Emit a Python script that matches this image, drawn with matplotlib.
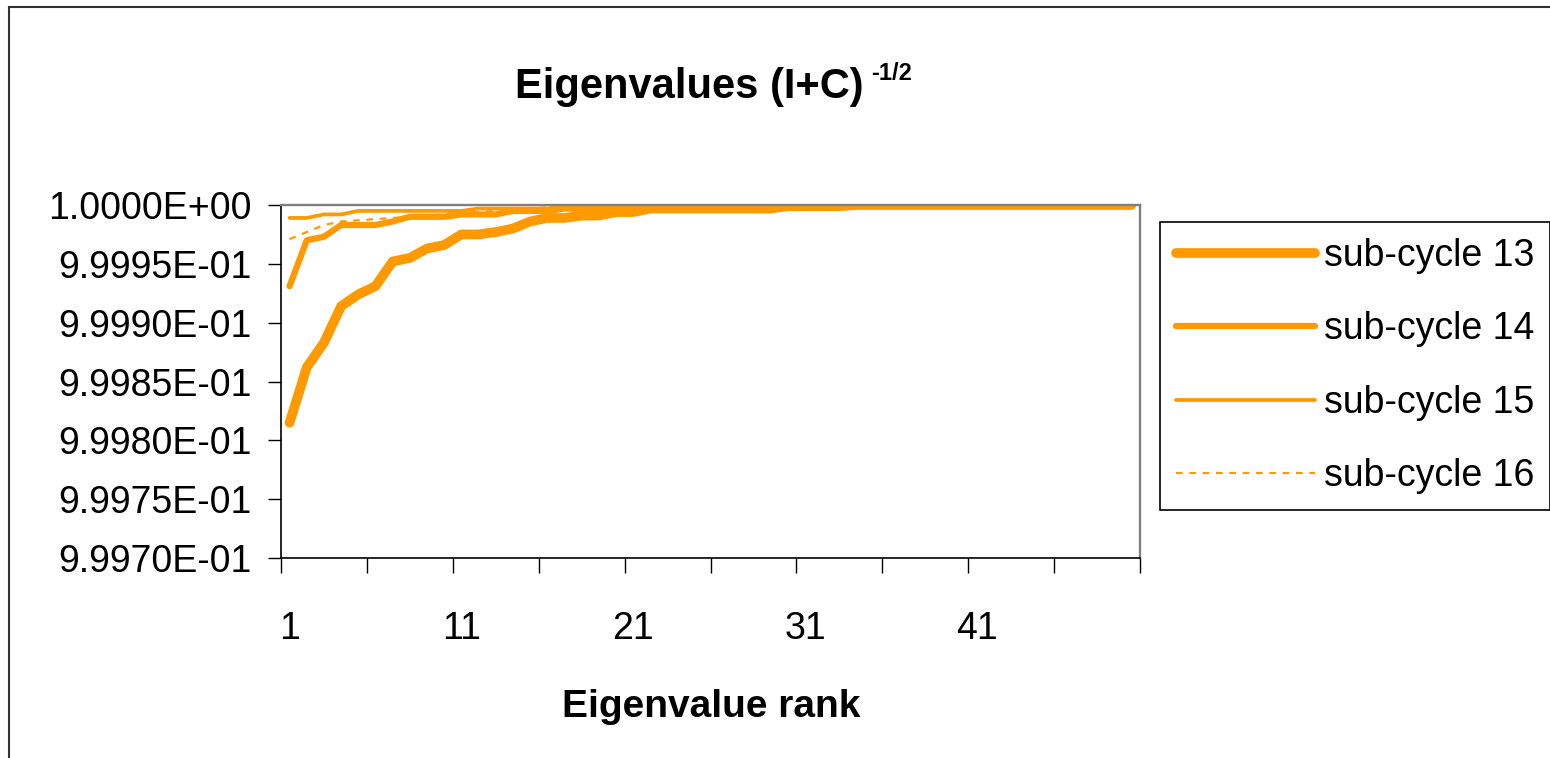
import matplotlib
matplotlib.use("Agg")
import matplotlib.pyplot as plt
from matplotlib.patches import Rectangle

plt.rcParams['font.family'] = ['Liberation Sans', 'DejaVu Sans']

# eigenvalues of (I+C)^-1/2, ranked, for each sub-cycle
rank = list(range(1, 51))
sub13 = [0.999815, 0.999862, 0.999883, 0.999914, 0.999924, 0.999931, 0.999952, 0.999955, 0.999963, 0.999966,
         0.999975, 0.999975, 0.999977, 0.999980, 0.999986, 0.999989, 0.999989, 0.999991, 0.999991, 0.999994,
         0.999994, 0.999997, 0.999997, 0.999997, 0.999997, 0.999997, 0.999997, 0.999997, 0.999997, 0.999999,
         0.999999, 0.999999, 0.999999, 1.0, 1.0, 1.0, 1.0, 1.0, 1.0, 1.0,
         1.0, 1.0, 1.0, 1.0, 1.0, 1.0, 1.0, 1.0, 1.0, 1.0]
sub14 = [0.999931, 0.999970, 0.999973, 0.999983, 0.999983, 0.999983, 0.999986, 0.999990, 0.999990, 0.999990,
         0.999992, 0.999992, 0.999992, 0.999995, 0.999995, 0.999995, 0.999997, 0.999997, 0.999997, 0.999997,
         0.999997, 0.999999, 0.999999, 0.999999, 1.0, 1.0, 1.0, 1.0, 1.0, 1.0,
         1.0, 1.0, 1.0, 1.0, 1.0, 1.0, 1.0, 1.0, 1.0, 1.0,
         1.0, 1.0, 1.0, 1.0, 1.0, 1.0, 1.0, 1.0, 1.0, 1.0]
sub15 = [0.999989, 0.999989, 0.999992, 0.999992, 0.999995, 0.999995, 0.999995, 0.999995, 0.999995, 0.999995,
         0.999995, 0.999997, 0.999997, 0.999997, 0.999997, 0.999997, 0.999999, 0.999999, 0.999999, 0.999999,
         0.999999, 0.999999, 1.0, 1.0, 1.0, 1.0, 1.0, 1.0, 1.0, 1.0,
         1.0, 1.0, 1.0, 1.0, 1.0, 1.0, 1.0, 1.0, 1.0, 1.0,
         1.0, 1.0, 1.0, 1.0, 1.0, 1.0, 1.0, 1.0, 1.0, 1.0]
sub16 = [0.999971, 0.999977, 0.999983, 0.999986, 0.999987, 0.999988, 0.999989, 0.999990, 0.999991, 0.999992,
         0.999993, 0.999994, 0.999995, 0.999996, 0.999997, 0.999998, 0.999998, 0.999998, 0.999998, 0.999998,
         1.0, 1.0, 1.0, 1.0, 1.0, 1.0, 1.0, 1.0, 1.0, 1.0,
         1.0, 1.0, 1.0, 1.0, 1.0, 1.0, 1.0, 1.0, 1.0, 1.0,
         1.0, 1.0, 1.0, 1.0, 1.0, 1.0, 1.0, 1.0, 1.0, 1.0]
labels = ["sub-cycle 13", "sub-cycle 14", "sub-cycle 15", "sub-cycle 16"]

y_ticks = [0.99970, 0.99975, 0.99980, 0.99985, 0.99990, 0.99995, 1.00000]
x_labels = [1, 11, 21, 31, 41]

orange = "#FF9900"
W, H = 1550, 758

fig = plt.figure(figsize=(W / 100, H / 100), dpi=100)
ax = fig.add_axes([281 / W, 1 - 558 / H, (1140 - 281) / W, (558 - 205) / H])

ax.plot(rank, sub13, color=orange, lw=7.0, solid_capstyle="round", solid_joinstyle="round", label=labels[0])
ax.plot(rank, sub14, color=orange, lw=4.5, solid_capstyle="round", solid_joinstyle="round", label=labels[1])
ax.plot(rank, sub15, color=orange, lw=2.7, solid_capstyle="round", solid_joinstyle="round", label=labels[2])
ax.plot(rank, sub16, color=orange, lw=1.6, dashes=(3, 3), label=labels[3])

ax.set_xlim(0.5, 50.5)
ax.set_ylim(y_ticks[0], y_ticks[-1])

# category axis: tick marks between groups of 5, labels every 10
ax.set_xticks([0.5 + 5 * k for k in range(11)])
ax.set_xticklabels([])
ax.set_xticks(x_labels, minor=True)
ax.set_xticklabels([str(v) for v in x_labels], minor=True, fontsize=27)
ax.tick_params(axis="x", which="major", direction="out", length=10.8, width=1, color="black")
ax.tick_params(axis="x", which="minor", length=0, pad=38)

ax.set_yticks(y_ticks)
ax.set_yticklabels(["{:.4E}".format(v) for v in y_ticks], fontsize=27)
ax.tick_params(axis="y", direction="out", length=9.4, width=1, color="black", pad=12)

for side in ["top", "right"]:
    ax.spines[side].set_color("#808080")
    ax.spines[side].set_linewidth(1.7)
for side in ["left", "bottom"]:
    ax.spines[side].set_color("black")
    ax.spines[side].set_linewidth(1.2)

leg = ax.legend(loc="upper left", bbox_to_anchor=(1160 / W, 1 - 222 / H), bbox_transform=fig.transFigure,
                fancybox=False, edgecolor="black", fontsize=27, handlelength=3.72, handletextpad=0.22,
                labelspacing=1.0, borderpad=0.42, borderaxespad=0, framealpha=1)
leg.get_frame().set_linewidth(1.2)

# title with superscript exponent
title = fig.text(515 / W, 1 - 98 / H, "Eigenvalues (I+C)", fontsize=30, weight="bold", ha="left", va="baseline")
fig.canvas.draw()
bb = title.get_window_extent()
fig.text((bb.x1 + 8) / W, 1 - 80 / H, "-1/2", fontsize=17, weight="bold", ha="left", va="baseline")

fig.text(711 / W, 1 - 717 / H, "Eigenvalue rank", fontsize=28, weight="bold", ha="center", va="baseline")

# chart area border
fig.patches.append(Rectangle((9 / W, -0.1), 2, 1.1 - 7 / H, transform=fig.transFigure,
                             fill=False, edgecolor="#333333", lw=1.5))

fig.savefig("out.png", dpi=100)
